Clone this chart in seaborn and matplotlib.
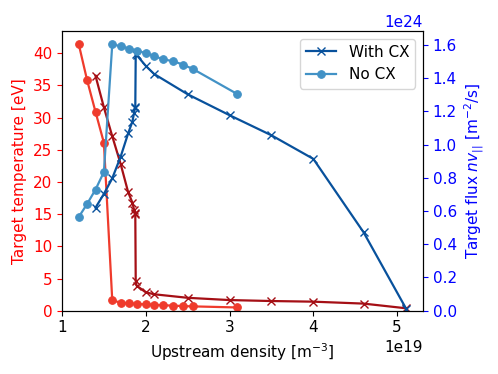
import numpy as np
import matplotlib
matplotlib.use("Agg")
import matplotlib.pyplot as plt
import seaborn as sns

# upstream density [1e19 m^-3]
dens_nocx = [1.2, 1.3, 1.4, 1.5, 1.6, 1.7, 1.8, 1.9, 2.0, 2.1, 2.2, 2.33, 2.44, 2.56, 3.09]
temp_nocx = [41.4, 35.8, 30.9, 26.1, 1.6, 1.25, 1.15, 1.05, 0.98, 0.92, 0.85, 0.78, 0.72, 0.67, 0.5]
flux_nocx = [0.564, 0.643, 0.729, 0.835, 1.604, 1.592, 1.578, 1.566, 1.55, 1.534,
             1.514, 1.502, 1.482, 1.456, 1.305]

dens_cx = [1.4, 1.5, 1.6, 1.7, 1.79, 1.84, 1.86, 1.87, 1.875, 1.88, 1.89,
           2.0, 2.1, 2.5, 3.0, 3.5, 4.0, 4.6, 5.11]
temp_cx = [36.5, 31.6, 27.1, 22.8, 18.4, 16.8, 15.7, 15.2, 15.0, 4.6, 3.9,
           2.85, 2.55, 2.0, 1.65, 1.5, 1.4, 1.1, 0.37]
flux_cx = [0.62, 0.703, 0.797, 0.927, 1.068, 1.138, 1.189, 1.219, 1.225, 1.545, 1.54,
           1.474, 1.425, 1.303, 1.177, 1.056, 0.914, 0.472, 0.01]

RED_LIGHT = "#ef3b2c"
RED_DARK = "#a50f15"
BLUE_LIGHT = "#4292c6"
BLUE_DARK = "#08519c"

plt.rcParams["font.size"] = 11

fig = plt.figure(figsize=(4.98, 3.74), dpi=100)
ax = fig.add_axes([0.1245, 0.1693, 0.725, 0.7477])
ax2 = ax.twinx()

n_nocx = np.array(dens_nocx) * 1e19
n_cx = np.array(dens_cx) * 1e19

line_kw = dict(sort=False, estimator=None, linewidth=1.6, markersize=5.5)

sns.lineplot(x=n_nocx, y=temp_nocx, ax=ax, color=RED_LIGHT, marker="o",
             markeredgecolor=RED_LIGHT, **line_kw)
sns.lineplot(x=n_cx, y=temp_cx, ax=ax, color=RED_DARK, marker="x",
             markeredgecolor=RED_DARK, markeredgewidth=1.0, **line_kw)

sns.lineplot(x=n_cx, y=np.array(flux_cx) * 1e24, ax=ax2, color=BLUE_DARK, marker="x",
             markeredgecolor=BLUE_DARK, markeredgewidth=1.0, label="With CX", **line_kw)
sns.lineplot(x=n_nocx, y=np.array(flux_nocx) * 1e24, ax=ax2, color=BLUE_LIGHT, marker="o",
             markeredgecolor=BLUE_LIGHT, label="No CX", **line_kw)

ax.set_xlim(1e19, 5.31e19)
ax.set_ylim(bottom=0)
ax2.set_ylim(bottom=0)

ax.set_xlabel("Upstream density [m$^{-3}$]")
ax.set_ylabel("Target temperature [eV]", color="r")
ax2.set_ylabel("Target flux $nv_{||}$ [m$^{-2}$/s]", color="b")
ax.tick_params(axis="y", colors="r")
ax2.tick_params(axis="y", colors="b")
ax2.yaxis.get_offset_text().set_color("b")

ax2.legend(loc="upper right")

fig.savefig("out.png", dpi=100)
